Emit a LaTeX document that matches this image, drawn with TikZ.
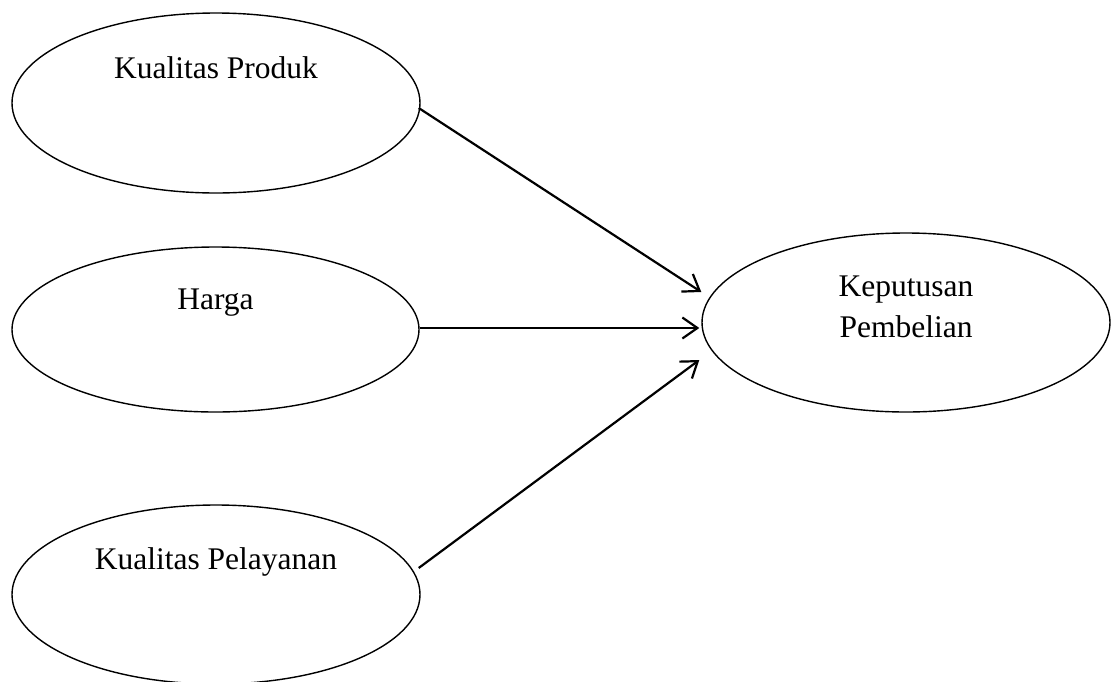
\documentclass[tikz,border=0pt]{standalone}
\usepackage{fontspec}
\setmainfont{Liberation Serif}
\usetikzlibrary{shapes.geometric,arrows.meta}
\begin{document}
\begin{tikzpicture}[x=1pt,y=-1pt,
  oval/.style={draw=black,line width=1.4pt,ellipse,inner sep=0pt},
  lbl/.style={font=\fontsize{31.5}{41}\selectfont,anchor=base,inner sep=0pt,align=center},
  arr/.style={draw=black,line width=2.2pt,-{Straight Barb[length=15pt,width=21pt,line width=2.2pt]}}]
\useasboundingbox (0,0) rectangle (1111,681);
\node[oval,minimum width=408pt,minimum height=180pt] (kp) at (216,103) {};
\node[oval,minimum width=407pt,minimum height=165pt] (harga) at (215.5,329.5) {};
\node[oval,minimum width=408pt,minimum height=179pt] (kpl) at (216,594.5) {};
\node[oval,minimum width=408pt,minimum height=179pt] (kep) at (906,322.5) {};
\node[lbl] (kpt) at (216,78) {Kualitas Produk};
\node[lbl] (hargat) at (215.5,309) {Harga};
\node[lbl] (kplt) at (216,569) {Kualitas Pelayanan};
\node[lbl] (kept1) at (906,296) {Keputusan};
\node[lbl] (kept2) at (906,337) {Pembelian};
\draw[arr] ([xshift=-2pt,yshift=-5pt]kp.east) -- ([yshift=30.5pt]kep.west);
\draw[arr] ([yshift=1.5pt]harga.east) -- ([xshift=-2pt,yshift=-5.5pt]kep.west);
\draw[arr] ([xshift=-2pt,yshift=26.5pt]kpl.east) -- ([xshift=-2pt,yshift=-37.5pt]kep.west);
\end{tikzpicture}
\end{document}
